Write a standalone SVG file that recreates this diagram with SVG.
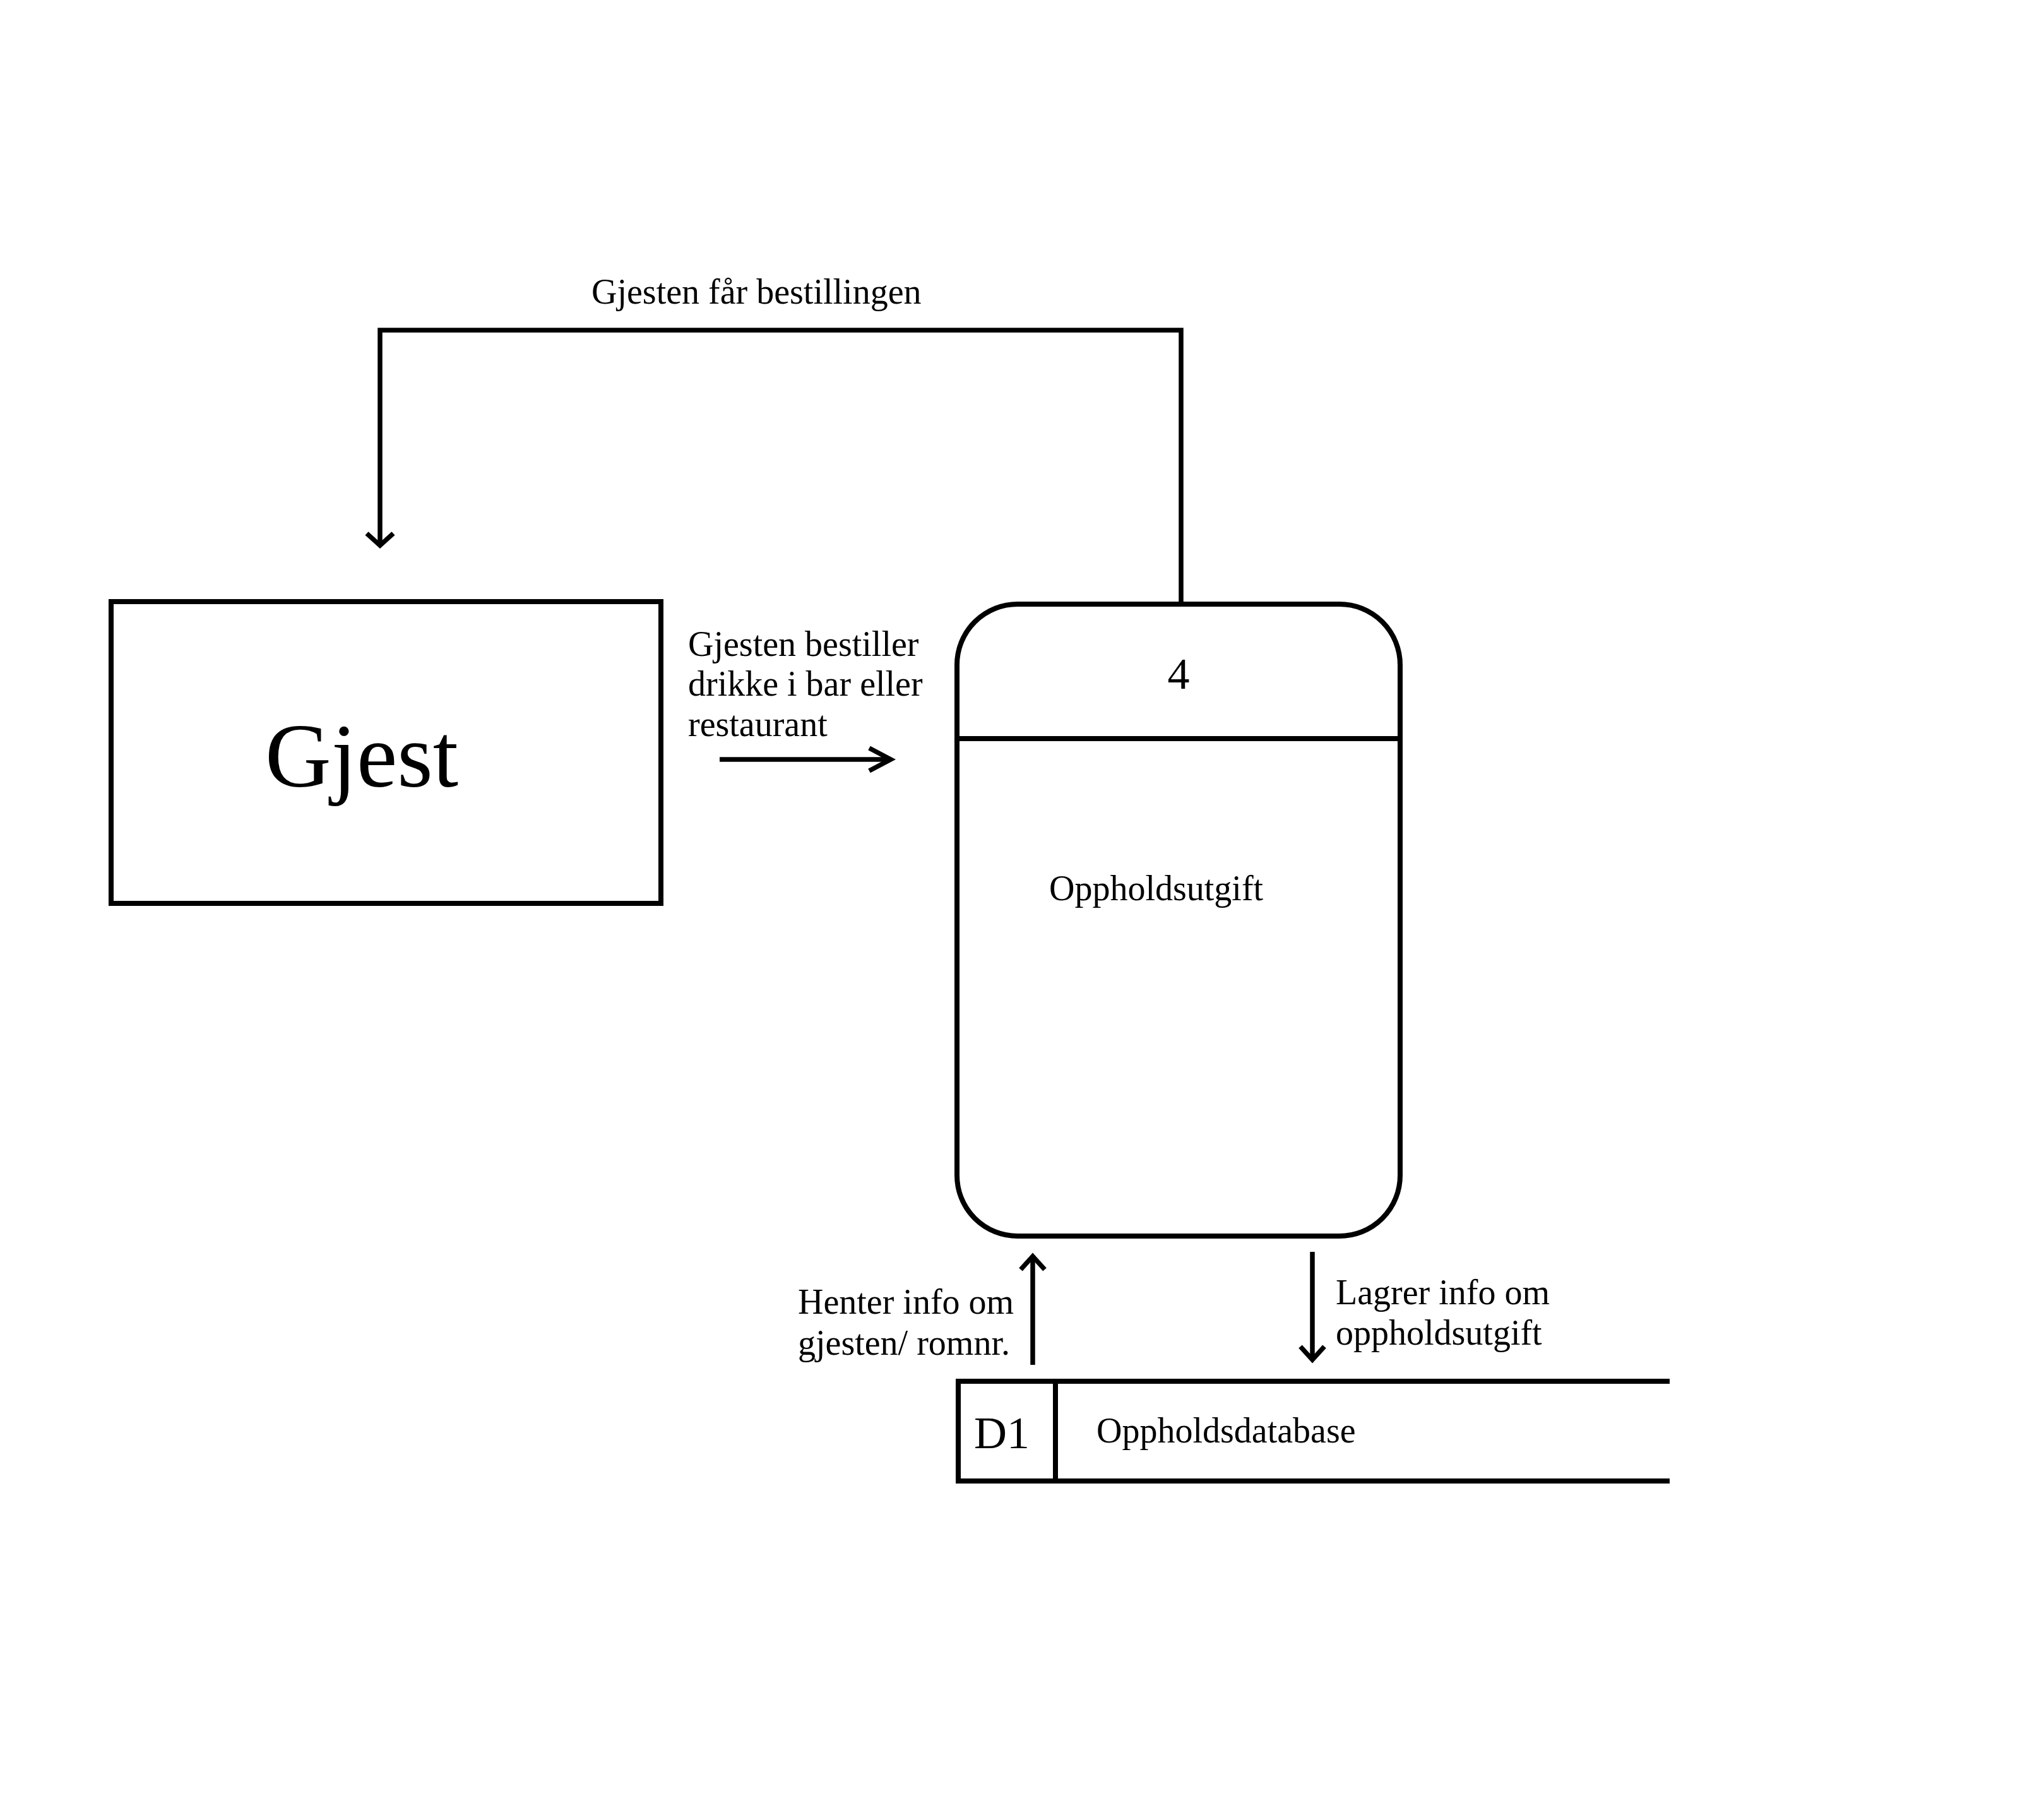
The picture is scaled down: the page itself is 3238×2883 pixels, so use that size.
<svg xmlns="http://www.w3.org/2000/svg" width="3238" height="2883" viewBox="0 0 3238 2883">
<style>
.shape{fill:none;stroke:#000;stroke-width:8;stroke-linejoin:miter}
.conn{fill:none;stroke:#000;stroke-width:7.5;stroke-linejoin:miter}
.t{font-family:"Liberation Serif","Times New Roman",serif;font-size:56px;fill:#000}
</style>
<rect width="3238" height="2883" fill="#fff"/>
<g id="gjest">
<rect class="shape" x="176" y="953" width="871" height="478"/>
<text class="t" x="420" y="1246" style="font-size:145px">Gjest</text>
</g>
<g id="process4">
<rect class="shape" x="1516" y="957" width="702" height="1001" rx="96" ry="96"/>
<line class="shape" x1="1516" y1="1170" x2="2218" y2="1170"/>
<text class="t" x="1867" y="1091" text-anchor="middle" style="font-size:70px">4</text>
<text class="t" x="1662" y="1426">Oppholdsutgift</text>
</g>
<g id="d1">
<path class="shape" d="M2645,2188 H1518 V2346 H2645"/>
<line class="shape" x1="1672" y1="2188" x2="1672" y2="2346"/>
<text class="t" x="1543" y="2294" style="font-size:72px">D1</text>
<text class="t" x="1737" y="2285">Oppholdsdatabase</text>
</g>
<g id="connectors">
<path class="conn" d="M1871,957 V523 H602 V864"/>
<polyline class="conn" points="581,845 602,864 623,845"/>
<line class="conn" x1="1140" y1="1203" x2="1411" y2="1203"/>
<polyline class="conn" points="1377,1185 1411,1203 1377,1221"/>
<line class="conn" x1="1636" y1="2162" x2="1636" y2="1990"/>
<polyline class="conn" points="1617,2011 1636,1990 1655,2011"/>
<line class="conn" x1="2079" y1="1983" x2="2079" y2="2154"/>
<polyline class="conn" points="2060,2133 2079,2154 2098,2133"/>
</g>
<g id="labels">
<text class="t" x="937" y="481">Gjesten får bestillingen</text>
<text class="t" x="1090" y="1039">Gjesten bestiller</text>
<text class="t" x="1090" y="1102">drikke i bar eller</text>
<text class="t" x="1090" y="1166">restaurant</text>
<text class="t" x="1264" y="2081">Henter info om</text>
<text class="t" x="1264" y="2146">gjesten/ romnr.</text>
<text class="t" x="2116" y="2066">Lagrer info om</text>
<text class="t" x="2116" y="2130">oppholdsutgift</text>
</g>
</svg>
